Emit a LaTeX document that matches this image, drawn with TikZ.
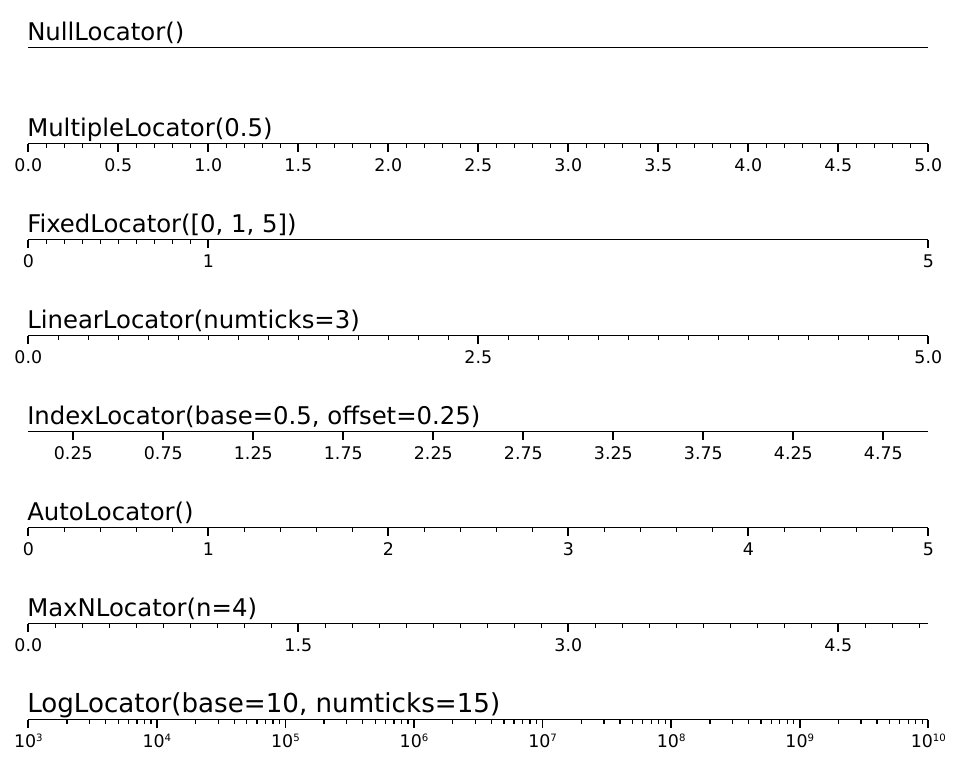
\documentclass[tikz,border=0pt]{standalone}
\usepackage{fontspec}
\setmainfont{DejaVu Sans}
\begin{document}
\begin{tikzpicture}[x=0.75pt,y=-0.75pt,
  spine/.style={line width=1.03pt},
  majortick/.style={line width=1.29pt},
  minortick/.style={line width=0.97pt},
  ticklab/.style={font=\fontsize{13.05}{13}\selectfont, anchor=base, inner sep=0pt},
  titlelab/.style={font=\fontsize{18.27}{18}\selectfont, anchor=base west, inner sep=0pt},
  logtitlelab/.style={font=\fontsize{19.6}{19}\selectfont, anchor=base west, inner sep=0pt}]
\useasboundingbox (0,0) rectangle (968,770);
\def\XO{28.3}
\def\ML{8.6}
\def\mL{4.3}
\def\LB{28}
\def\TB{7.5}
\newcommand{\tenpow}[1]{10\raisebox{5pt}{\fontsize{7.6}{7}\selectfont #1}}

% ---------- NullLocator ----------
\def\ya{47.8}
\node[titlelab] (t1) at (27,\ya-\TB) {NullLocator()};
\coordinate (s1a) at (\XO,\ya); \coordinate (s1b) at (928.3,\ya);
\draw[spine] (s1a) -- (s1b);

% ---------- MultipleLocator ----------
\def\yb{143.8}
\node[titlelab] (t2) at (27,\yb-\TB) {MultipleLocator(0.5)};
\foreach \i in {0,...,50} {
  \pgfmathsetmacro\xx{\XO+18*\i}
  \draw[minortick] (\xx,\yb) -- ++(0,\mL);
}
\foreach \i/\lab in {0/0.0,1/0.5,2/1.0,3/1.5,4/2.0,5/2.5,6/3.0,7/3.5,8/4.0,9/4.5,10/5.0} {
  \pgfmathsetmacro\xx{\XO+90*\i}
  \draw[majortick] (\xx,\yb) -- ++(0,\ML);
  \node[ticklab] (b\i) at (\xx,\yb+\LB) {\lab};
}
\coordinate (s2a) at (\XO,\yb); \coordinate (s2b) at (928.3,\yb);
\draw[spine] (s2a) -- (s2b);

% ---------- FixedLocator ----------
\def\yc{239.8}
\node[titlelab] (t3) at (27,\yc-\TB) {FixedLocator([0, 1, 5])};
\foreach \i in {1,...,9} {
  \pgfmathsetmacro\xx{\XO+18*\i}
  \draw[minortick] (\xx,\yc) -- ++(0,\mL);
}
\foreach \v in {0,1,5} {
  \pgfmathsetmacro\xx{\XO+180*\v}
  \draw[majortick] (\xx,\yc) -- ++(0,\ML);
  \node[ticklab] (c\v) at (\xx,\yc+\LB) {\v};
}
\coordinate (s3a) at (\XO,\yc); \coordinate (s3b) at (928.3,\yc);
\draw[spine] (s3a) -- (s3b);

% ---------- LinearLocator ----------
\def\yd{335.8}
\node[titlelab] (t4) at (27,\yd-\TB) {LinearLocator(numticks=3)};
\foreach \i in {0,...,30} {
  \pgfmathsetmacro\xx{\XO+30*\i}
  \draw[minortick] (\xx,\yd) -- ++(0,\mL);
}
\foreach \i/\lab in {0/0.0,1/2.5,2/5.0} {
  \pgfmathsetmacro\xx{\XO+450*\i}
  \draw[majortick] (\xx,\yd) -- ++(0,\ML);
  \node[ticklab] (d\i) at (\xx,\yd+\LB) {\lab};
}
\coordinate (s4a) at (\XO,\yd); \coordinate (s4b) at (928.3,\yd);
\draw[spine] (s4a) -- (s4b);

% ---------- IndexLocator ----------
\def\ye{431.8}
\node[titlelab] (t5) at (27,\ye-\TB) {IndexLocator(base=0.5, offset=0.25)};
\foreach \i/\lab in {0/0.25,1/0.75,2/1.25,3/1.75,4/2.25,5/2.75,6/3.25,7/3.75,8/4.25,9/4.75} {
  \pgfmathsetmacro\xx{\XO+45+90*\i}
  \draw[majortick] (\xx,\ye) -- ++(0,\ML);
  \node[ticklab] (e\i) at (\xx,\ye+\LB) {\lab};
}
\coordinate (s5a) at (\XO,\ye); \coordinate (s5b) at (928.3,\ye);
\draw[spine] (s5a) -- (s5b);

% ---------- AutoLocator ----------
\def\yf{527.8}
\node[titlelab] (t6) at (27,\yf-\TB) {AutoLocator()};
\foreach \i in {0,...,25} {
  \pgfmathsetmacro\xx{\XO+36*\i}
  \draw[minortick] (\xx,\yf) -- ++(0,\mL);
}
\foreach \v in {0,...,5} {
  \pgfmathsetmacro\xx{\XO+180*\v}
  \draw[majortick] (\xx,\yf) -- ++(0,\ML);
  \node[ticklab] (f\v) at (\xx,\yf+\LB) {\v};
}
\coordinate (s6a) at (\XO,\yf); \coordinate (s6b) at (928.3,\yf);
\draw[spine] (s6a) -- (s6b);

% ---------- MaxNLocator ----------
\def\yg{623.8}
\node[titlelab] (t7) at (27,\yg-\TB) {MaxNLocator(n=4)};
\foreach \i in {0,...,33} {
  \pgfmathsetmacro\xx{\XO+27*\i}
  \draw[minortick] (\xx,\yg) -- ++(0,\mL);
}
\foreach \i/\lab in {0/0.0,1/1.5,2/3.0,3/4.5} {
  \pgfmathsetmacro\xx{\XO+270*\i}
  \draw[majortick] (\xx,\yg) -- ++(0,\ML);
  \node[ticklab] (g\i) at (\xx,\yg+\LB) {\lab};
}
\coordinate (s7a) at (\XO,\yg); \coordinate (s7b) at (928.3,\yg);
\draw[spine] (s7a) -- (s7b);

% ---------- LogLocator ----------
\def\yh{719.8}
\node[logtitlelab] (t8) at (27,\yh-\TB) {LogLocator(base=10, numticks=15)};
\foreach \k in {0,...,6} {
  \foreach \m in {2,...,9} {
    \pgfmathsetmacro\xx{\XO+128.5714*(\k+log10(\m))}
    \draw[minortick] (\xx,\yh) -- ++(0,\mL);
  }
}
\foreach \k in {0,...,7} {
  \pgfmathsetmacro\xx{\XO+128.5714*\k}
  \pgfmathtruncatemacro\ex{\k+3}
  \draw[majortick] (\xx,\yh) -- ++(0,\ML);
  \node[ticklab] (h\k) at (\xx,\yh+\LB) {\tenpow{\ex}};
}
\coordinate (s8a) at (\XO,\yh); \coordinate (s8b) at (928.3,\yh);
\draw[spine] (s8a) -- (s8b);
\end{tikzpicture}
\end{document}
